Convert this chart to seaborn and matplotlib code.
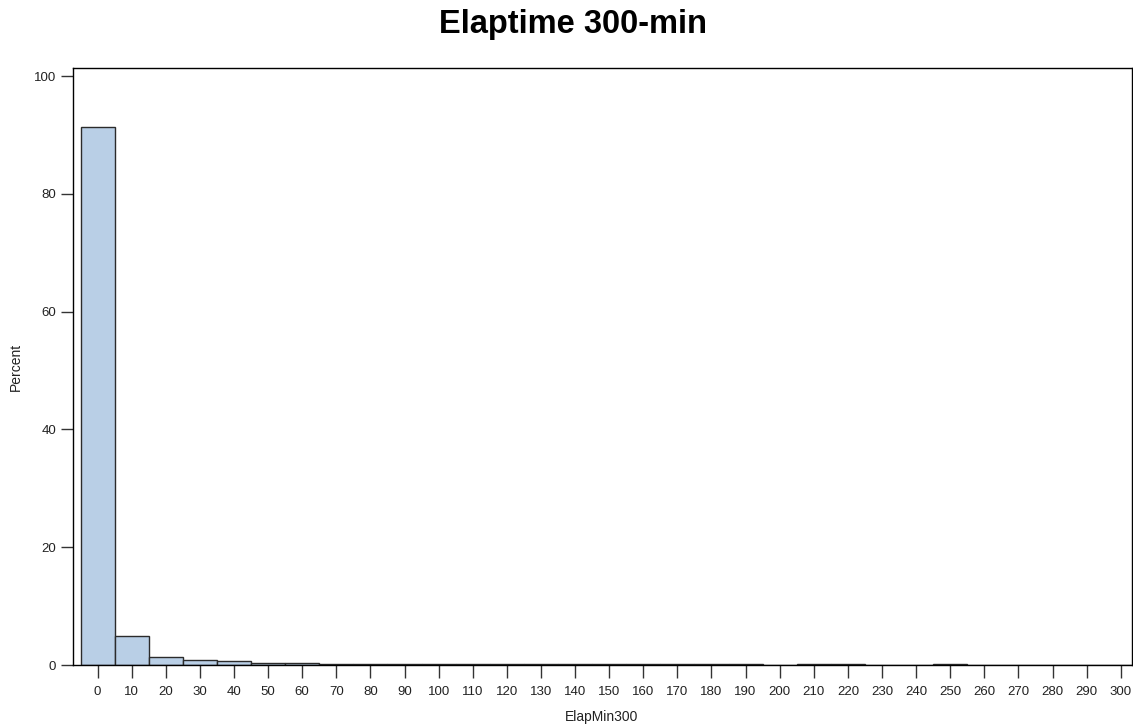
import numpy as np
import pandas as pd
import matplotlib
matplotlib.use("Agg")
import matplotlib.pyplot as plt
import seaborn as sns

# Bin centers (minutes) and percent per bin
bin_centers = [0, 10, 20, 30, 40, 50, 60, 70, 80, 90, 100, 110, 120, 130, 140,
               150, 160, 170, 180, 190, 200, 210, 220, 230, 240, 250, 260, 270,
               280, 290, 300]
percents = [91.4, 5.0, 1.3, 0.8, 0.6, 0.35, 0.35, 0.1, 0.1, 0.1, 0.1, 0.1, 0.1, 0.1, 0.1,
            0.1, 0.1, 0.1, 0.1, 0.1, 0.0, 0.1, 0.1, 0.0, 0.0, 0.1, 0.0, 0.0,
            0.0, 0.0, 0.0]
x_ticks = list(range(0, 301, 10))
y_ticks = [0, 20, 40, 60, 80, 100]

sns.set_theme(style="white")
plt.rcParams['font.family'] = ['Liberation Sans', 'DejaVu Sans']

fig = plt.figure(figsize=(11.33, 7.26), dpi=100)
ax = fig.add_axes([73/1133, 1 - 665/726, (1132-73)/1133, (665-68)/726])

df = pd.DataFrame({"ElapMin300": bin_centers, "pct": percents})
sns.histplot(data=df, x="ElapMin300", weights="pct", binwidth=10,
             binrange=(-5, 305), ax=ax,
             color="#B9CFE6", edgecolor="#2b2b2b", linewidth=1.0, alpha=1.0)

ax.set_xlim(-7.2, 303.3)
ax.set_ylim(0, 101.4)
ax.set_xticks(x_ticks)
ax.set_xticklabels([str(t) for t in x_ticks])
ax.set_yticks(y_ticks)
ax.tick_params(axis="both", which="both", direction="out", length=9, width=1,
               color="#333333", labelsize=9.5, labelcolor="#222222",
               bottom=True, left=True)
ax.tick_params(axis="x", pad=6)
ax.tick_params(axis="y", pad=3)
for s in ax.spines.values():
    s.set_color("#000000")
    s.set_linewidth(1.0)
    s.set_visible(True)

ax.set_xlabel("ElapMin300", fontsize=10, color="#222222")
ax.set_ylabel("Percent", fontsize=10, color="#222222")
ax.xaxis.set_label_coords((602 - 73) / 1059, -0.0754)
ax.yaxis.set_label_coords(-0.047, 0.5)
fig.text(573/1133, 1 - 25/726, "Elaptime 300-min", fontsize=23.5,
         fontweight="bold", color="black", ha="center", va="center")

fig.savefig("out.png", dpi=100)
